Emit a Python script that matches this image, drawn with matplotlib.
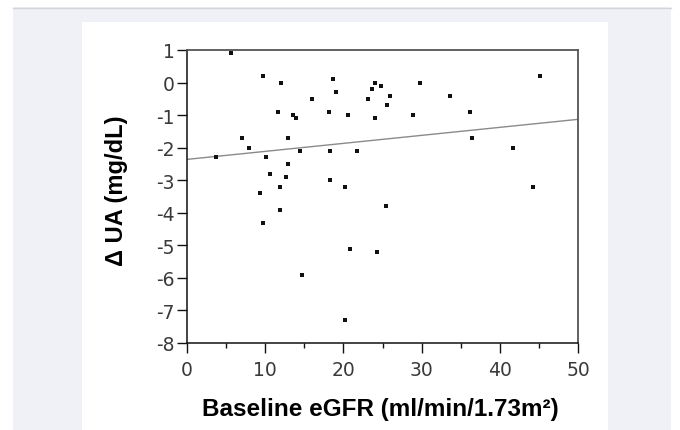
import matplotlib
matplotlib.use("Agg")
import matplotlib.pyplot as plt
from matplotlib.patches import Rectangle
from matplotlib.ticker import MultipleLocator
import numpy as np

plt.rcParams["axes.unicode_minus"] = False

# values
egfr = [5.6, 9.7, 12.0, 16.0, 11.6, 13.5, 13.9, 7.0, 12.9, 7.9, 14.5, 3.7,
        10.1, 12.9, 10.6, 12.7, 11.9, 9.3, 11.9, 9.7, 14.7,
        18.7, 24.0, 23.7, 24.8, 29.8, 19.1, 23.1, 26.0, 25.6, 18.1, 20.6,
        24.0, 28.9, 33.6, 18.3, 21.8, 18.3, 20.2, 25.4, 20.8, 24.3, 20.2,
        45.2, 36.2, 36.4, 41.7, 44.2]
delta_ua = [0.9, 0.2, 0.0, -0.5, -0.9, -1.0, -1.1, -1.7, -1.7, -2.0, -2.1, -2.3,
            -2.3, -2.5, -2.8, -2.9, -3.2, -3.4, -3.9, -4.3, -5.9,
            0.1, 0.0, -0.2, -0.1, 0.0, -0.3, -0.5, -0.4, -0.7, -0.9, -1.0,
            -1.1, -1.0, -0.4, -2.1, -2.1, -3.0, -3.2, -3.8, -5.1, -5.2, -7.3,
            0.2, -0.9, -1.7, -2.0, -3.2]

# regression line as drawn in the figure
fit_intercept = -2.36
fit_slope = 0.0246

x_ticks = [0, 10, 20, 30, 40, 50]
y_ticks = [1, 0, -1, -2, -3, -4, -5, -6, -7, -8]

W, H = 680, 431
fig = plt.figure(figsize=(W / 100, H / 100), dpi=100)
fig.patch.set_facecolor("white")

# page background: grey frame with white content panel
fig.patches.append(Rectangle((13 / W, 0), (671 - 13) / W, (H - 8) / H,
                             transform=fig.transFigure, facecolor="#f0f1f6",
                             edgecolor="none", zorder=0))
fig.lines.append(plt.Line2D([13 / W, 671 / W], [(H - 8.5) / H] * 2,
                            transform=fig.transFigure, color="#d3d4da", lw=1))
fig.patches.append(Rectangle((82 / W, 0), (608 - 82) / W, (H - 23) / H,
                             transform=fig.transFigure, facecolor="white",
                             edgecolor="none", zorder=0.5))

ax = fig.add_axes([187 / W, 1 - 344 / H, (578 - 187) / W, (344 - 51) / H])
ax.set_zorder(5)
ax.set_facecolor("white")

ax.scatter(egfr, delta_ua, marker="s", s=7, color="#111111", linewidths=0, zorder=3)

xs = np.array([0, 50])
ax.plot(xs, fit_intercept + fit_slope * xs, color="#8a8a8a", lw=1.0, zorder=2)

ax.set_xlim(0, 50)
ax.set_ylim(-8, 1)
ax.set_xticks(x_ticks)
ax.set_yticks(y_ticks)
ax.xaxis.set_minor_locator(MultipleLocator(5))

ax.tick_params(axis="both", which="major", direction="out", length=7, width=1,
               color="#111111", labelsize=13.5, labelcolor="#3a3a3a", pad=2)
ax.tick_params(axis="x", which="minor", direction="out", length=3.5, width=1,
               color="#111111")
ax.tick_params(axis="x", which="major", pad=5)

for side in ["left", "bottom"]:
    ax.spines[side].set_color("#111111")
    ax.spines[side].set_linewidth(1.1)
for side in ["top", "right"]:
    ax.spines[side].set_color("#555555")
    ax.spines[side].set_linewidth(1.3)

ax.set_xlabel("Baseline eGFR (ml/min/1.73m²)", fontsize=17.5,
              fontweight="bold", family="Liberation Sans")
ax.set_ylabel("Δ UA (mg/dL)", fontsize=17, fontweight="bold",
              family="Liberation Sans")
ax.xaxis.set_label_coords(0.495, -0.184)
ax.yaxis.set_label_coords(-0.150, 0.522)

fig.savefig("out.png", dpi=100, facecolor=fig.get_facecolor())
